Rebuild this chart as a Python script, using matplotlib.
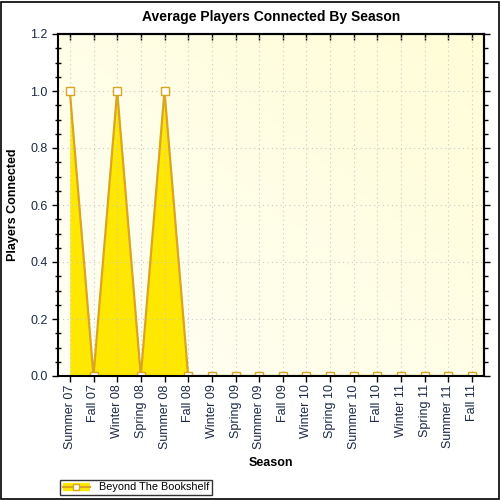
import matplotlib
matplotlib.use("Agg")
import matplotlib.pyplot as plt
import numpy as np
from matplotlib.ticker import MultipleLocator
from matplotlib.colors import LinearSegmentedColormap
from matplotlib.lines import Line2D
from matplotlib.patches import Rectangle

seasons = ["Summer 07", "Fall 07", "Winter 08", "Spring 08", "Summer 08", "Fall 08",
           "Winter 09", "Spring 09", "Summer 09", "Fall 09", "Winter 10", "Spring 10",
           "Summer 10", "Fall 10", "Winter 11", "Spring 11", "Summer 11", "Fall 11"]
players = [1, 0, 1, 0, 1, 0, 0, 0, 0, 0, 0, 0, 0, 0, 0, 0, 0, 0]
series_name = "Beyond The Bookshelf"
yticks = [0.0, 0.2, 0.4, 0.6, 0.8, 1.0, 1.2]

plt.rcParams["font.family"] = ["Liberation Sans", "DejaVu Sans"]

fill_col = "#FFE800"
edge_col = "#DAA520"
tick_col = "#1c2a44"

fig = plt.figure(figsize=(5, 5), dpi=100)
fig.patch.set_facecolor("white")
fig.add_artist(Rectangle((0.002, 0.002), 0.995, 0.995, transform=fig.transFigure,
                         fill=False, edgecolor="black", linewidth=1.2))

ax = fig.add_axes([0.116, 0.248, 0.852, 0.684])
x = np.arange(len(seasons))

# gradient background
cmap = LinearSegmentedColormap.from_list("bg", ["#FFFFF6", "#FFFDD6"])
gx, gy = np.meshgrid(np.linspace(0, 1, 200), np.linspace(0, 1, 200))
grad = (gx + gy) / 2
ax.imshow(grad, extent=[-0.5, 17.5, 0, 1.2], origin="lower", aspect="auto",
          cmap=cmap, zorder=0, interpolation="bilinear")

ax.fill_between(x, players, 0, color=fill_col, zorder=2, linewidth=0)
ax.plot(x, players, color=edge_col, linewidth=1.6, zorder=3, marker="s",
        markersize=5.5, markerfacecolor="white", markeredgecolor=edge_col,
        markeredgewidth=1, clip_on=True)

ax.set_xlim(-0.5, 17.5)
ax.set_ylim(0, 1.2)
ax.set_xticks(x)
ax.set_xticklabels(seasons, rotation=90, fontsize=9, color=tick_col)
ax.set_yticks(yticks)
ax.set_yticklabels([f"{v:.1f}" for v in yticks], fontsize=9, color=tick_col)
ax.yaxis.set_minor_locator(MultipleLocator(0.05))

ax.tick_params(axis="y", which="major", direction="out", length=4, width=1,
               right=False, left=True)
ax.tick_params(axis="y", which="minor", direction="inout", length=5, width=1,
               right=False, left=True)
ax.tick_params(axis="x", which="major", direction="out", length=4, width=1,
               top=False, bottom=True, pad=2)

# top ticks (inward) and right ticks (outward), no labels
secx = ax.secondary_xaxis("top")
secx.set_xticks(x)
secx.set_xticklabels([])
secx.tick_params(direction="in", length=4, width=1)
secy = ax.secondary_yaxis("right")
secy.set_yticks(yticks)
secy.set_yticklabels([])
secy.yaxis.set_minor_locator(MultipleLocator(0.05))
secy.tick_params(which="major", direction="out", length=4, width=1)
secy.tick_params(which="minor", direction="out", length=3, width=1)
for sa in (secx, secy):
    for s in sa.spines.values():
        s.set_linewidth(1.5)

ax.grid(True, which="major", color="#c8c8c8", linestyle=(0, (1, 3)), linewidth=0.8)
ax.set_axisbelow(False)
for s in ax.spines.values():
    s.set_linewidth(1.5)
    s.set_zorder(5)

ax.set_title("Average Players Connected By Season", fontsize=10, fontweight="bold", pad=9)
ax.set_ylabel("Players Connected", fontsize=9, fontweight="bold", labelpad=8)
ax.set_xlabel("Season", fontsize=9, fontweight="bold", labelpad=6)

handle = Line2D([0], [0], color=fill_col, linewidth=6, solid_capstyle="butt")
handle2 = Line2D([0], [0], color=edge_col, linewidth=1.5, marker="s", markersize=5,
                 markerfacecolor="white", markeredgecolor=edge_col)
leg = fig.legend([(handle, handle2)], [series_name], loc="lower left",
                 bbox_to_anchor=(0.11, 0.0), fontsize=7.8, frameon=True,
                 fancybox=False, edgecolor="black", borderpad=0.2,
                 handlelength=2.5, handletextpad=0.9)
leg.get_frame().set_linewidth(1)

fig.savefig("out.png", dpi=100)
